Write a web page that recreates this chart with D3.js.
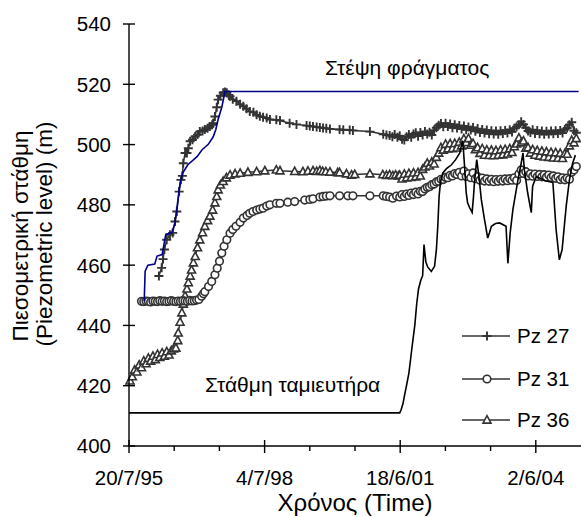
<!DOCTYPE html>
<html>
<head>
<meta charset="utf-8">
<script src="https://cdn.jsdelivr.net/npm/d3@7"></script>
<style>
  html, body { margin: 0; padding: 0; background: #fff; }
  svg { display: block; font-family: "Liberation Sans", Arial, sans-serif; }
</style>
</head>
<body>
<svg id="chart" width="581" height="517"></svg>
<script>
/* Πιεζόμετρα Pz 27 / 31 / 36, στάθμη ταμιευτήρα, στέψη φράγματος */

// χρόνος σε δεκαδικά έτη, στάθμη σε m
const crestLevel = [
  [1995.88, 448.0], [1995.90, 458.0], [1995.96, 460.0], [1996.11, 460.4], [1996.16, 463.0],
  [1996.27, 463.5], [1996.35, 470.2], [1996.48, 470.8], [1996.55, 473.8], [1996.66, 487.3],
  [1996.72, 490.6], [1996.83, 493.3], [1997.03, 496.0], [1997.14, 498.3], [1997.27, 500.0],
  [1997.38, 502.5], [1997.44, 505.0], [1997.49, 508.4], [1997.57, 512.4], [1997.64, 517.6],
  [2005.35, 517.6]
];

const reservoirLevel = [
  [1995.55, 411.0], [2001.45, 411.0], [2001.48, 412.0], [2001.52, 414.0], [2001.56, 417.2],
  [2001.60, 420.2], [2001.65, 424.2], [2001.69, 429.2], [2001.73, 434.2], [2001.78, 440.2],
  [2001.82, 447.1], [2001.86, 452.1], [2001.91, 455.0], [2001.95, 456.5], [2001.98, 466.8],
  [2002.02, 461.0], [2002.06, 459.4], [2002.14, 457.9], [2002.21, 459.6], [2002.25, 465.2],
  [2002.28, 472.8], [2002.31, 483.0], [2002.34, 487.6], [2002.39, 490.6], [2002.47, 492.0],
  [2002.58, 493.3], [2002.67, 495.0], [2002.76, 497.2], [2002.82, 501.3], [2002.84, 498.3],
  [2002.87, 491.6], [2002.90, 484.1], [2002.93, 480.8], [2002.97, 479.2], [2003.03, 477.5],
  [2003.06, 482.8], [2003.08, 487.3], [2003.13, 495.0], [2003.18, 489.3], [2003.23, 481.8],
  [2003.30, 475.1], [2003.37, 469.0], [2003.41, 470.8], [2003.45, 472.9], [2003.54, 473.8],
  [2003.63, 474.0], [2003.77, 472.9], [2003.81, 460.6], [2003.86, 470.7], [2003.92, 478.5],
  [2004.03, 488.3], [2004.10, 493.8], [2004.14, 497.2], [2004.17, 491.6], [2004.24, 484.1],
  [2004.32, 477.4], [2004.34, 483.8], [2004.35, 486.3], [2004.43, 489.4], [2004.61, 488.1],
  [2004.79, 487.4], [2004.86, 471.8], [2004.93, 461.8], [2004.99, 465.1], [2005.08, 479.6],
  [2005.15, 488.3], [2005.22, 493.8], [2005.28, 496.5]
];

// αραιές μετρήσεις έως 2001
const pz27Early = [
  [1996.20, 456.4], [1996.26, 459.1], [1996.29, 462.0], [1996.32, 465.2], [1996.37, 468.4],
  [1996.44, 470.1], [1996.50, 470.7], [1996.55, 474.5], [1996.59, 477.8], [1996.64, 484.4],
  [1996.68, 488.3], [1996.71, 489.6], [1996.73, 493.8], [1996.77, 497.2], [1996.81, 497.2],
  [1996.84, 498.8], [1996.88, 501.1], [1996.93, 501.6], [1996.99, 502.7], [1997.04, 503.3],
  [1997.09, 504.3], [1997.15, 504.5], [1997.20, 505.0], [1997.26, 505.4], [1997.31, 506.0],
  [1997.36, 506.6], [1997.38, 507.1], [1997.42, 509.3], [1997.46, 512.4], [1997.49, 514.9],
  [1997.54, 516.2], [1997.60, 517.2], [1997.64, 517.4], [1997.68, 517.2], [1997.72, 516.5],
  [1997.75, 516.0], [1997.81, 515.0], [1997.89, 514.4], [1997.97, 513.4], [1998.04, 512.7],
  [1998.11, 511.9], [1998.18, 511.0], [1998.26, 510.7], [1998.33, 509.9], [1998.40, 509.4],
  [1998.47, 509.1], [1998.55, 508.8], [1998.62, 508.3], [1998.76, 508.2], [1998.84, 508.0],
  [1999.05, 507.1], [1999.20, 506.7], [1999.42, 506.3], [1999.49, 506.2], [1999.56, 506.0],
  [1999.64, 505.8], [1999.71, 505.7], [1999.78, 505.5], [1999.85, 505.4], [1999.93, 505.2],
  [2000.14, 505.0], [2000.22, 504.9], [2000.36, 504.8], [2000.43, 504.7], [2000.80, 504.3],
  [2001.09, 503.4], [2001.16, 503.2], [2001.23, 503.0], [2001.29, 502.6], [2001.34, 503.3],
  [2001.40, 502.4]
];

const pz31Early = [
  [1995.82, 448.0], [1995.87, 447.9], [1995.92, 448.1], [1995.97, 448.0], [1996.02, 447.8],
  [1996.07, 448.1], [1996.12, 448.0], [1996.17, 447.9], [1996.22, 448.2], [1996.27, 448.0],
  [1996.32, 448.1], [1996.37, 447.9], [1996.42, 448.0], [1996.47, 448.2], [1996.52, 448.0],
  [1996.57, 447.9], [1996.62, 448.1], [1996.67, 448.0], [1996.72, 448.2], [1996.77, 448.1],
  [1996.82, 448.0], [1996.87, 448.3], [1996.92, 448.1], [1996.97, 448.2], [1997.02, 448.4],
  [1997.07, 448.6], [1997.13, 449.7], [1997.17, 450.5], [1997.20, 451.2], [1997.28, 452.9],
  [1997.35, 454.6], [1997.42, 456.8], [1997.47, 459.0], [1997.52, 461.3], [1997.57, 464.0],
  [1997.62, 466.3], [1997.68, 468.4], [1997.75, 470.6], [1997.81, 471.8], [1997.88, 472.9],
  [1997.97, 474.2], [1998.04, 475.6], [1998.12, 476.5], [1998.18, 477.2], [1998.25, 477.8],
  [1998.33, 478.3], [1998.40, 478.6], [1998.47, 478.9], [1998.55, 479.6], [1998.62, 480.0],
  [1998.76, 480.5], [1998.84, 480.5], [1999.01, 480.9], [1999.16, 481.1], [1999.38, 481.6],
  [1999.49, 481.8], [1999.56, 482.0], [1999.71, 482.6], [1999.78, 482.8], [1999.85, 482.9],
  [1999.93, 483.0], [2000.14, 483.0], [2000.32, 483.0], [2000.43, 483.0], [2000.80, 483.0],
  [2001.09, 483.0], [2001.16, 482.8], [2001.23, 482.6], [2001.30, 482.2], [2001.38, 482.9]
];

const pz36Early = [
  [1995.57, 421.6], [1995.62, 423.0], [1995.67, 425.2], [1995.72, 424.6], [1995.77, 426.9],
  [1995.82, 426.0], [1995.87, 428.2], [1995.92, 427.3], [1995.97, 429.1], [1996.02, 428.2],
  [1996.07, 429.8], [1996.12, 428.7], [1996.17, 430.4], [1996.22, 429.4], [1996.27, 430.9],
  [1996.32, 429.8], [1996.37, 431.3], [1996.42, 430.2], [1996.47, 431.6], [1996.52, 432.2],
  [1996.57, 432.5], [1996.61, 435.0], [1996.62, 437.5], [1996.66, 441.1], [1996.70, 444.2],
  [1996.73, 447.1], [1996.77, 449.8], [1996.81, 452.1], [1996.84, 454.2], [1996.88, 456.4],
  [1996.91, 458.4], [1996.95, 460.8], [1996.99, 462.9], [1997.04, 465.8], [1997.09, 468.4],
  [1997.15, 470.8], [1997.20, 472.9], [1997.26, 474.8], [1997.31, 476.3], [1997.37, 478.3],
  [1997.42, 480.7], [1997.46, 482.8], [1997.49, 485.0], [1997.54, 486.6], [1997.60, 487.8],
  [1997.67, 489.0], [1997.75, 489.9], [1997.86, 490.3], [1997.97, 490.5], [1998.14, 490.8],
  [1998.33, 491.0], [1998.51, 491.3], [1998.76, 491.6], [1998.84, 491.3], [1999.16, 491.1],
  [1999.34, 491.0], [1999.45, 491.2], [1999.56, 491.3], [1999.64, 491.1], [1999.71, 491.4],
  [1999.77, 491.1], [1999.84, 491.0], [1999.93, 490.9], [2000.10, 490.7], [2000.14, 490.7],
  [2000.29, 490.3], [2000.40, 489.9], [2000.47, 490.1], [2000.80, 490.3], [2001.08, 490.0],
  [2001.16, 489.8], [2001.23, 490.0], [2001.30, 489.7], [2001.36, 489.9], [2001.42, 489.6]
];

// πυκνές μετρήσεις μετά την πλήρωση (κάθε 0.05 έτη)
const denseStart = 2001.45;
const denseStep  = 0.05;

const pz27Dense = [
  502.9, 501.8, 501.5, 502.6, 503.3, 502.4, 503.5, 503.9, 502.8, 504.0,
  503.2, 504.3, 503.5, 504.1, 503.2, 504.8, 505.6, 506.4, 507.0, 505.9,
  507.1, 506.0, 506.8, 505.6, 506.6, 505.5, 506.3, 505.2, 506.2, 504.9,
  505.8, 504.8, 505.7, 504.4, 505.3, 504.0, 505.0, 503.8, 504.8, 503.6,
  504.6, 503.5, 504.5, 503.4, 504.6, 503.7, 504.7, 503.8, 504.9, 504.2,
  505.4, 505.9, 506.6, 507.6, 506.7, 505.6, 504.5, 504.0, 504.9, 503.7,
  504.7, 503.6, 504.5, 503.4, 504.4, 503.5, 504.5, 503.6, 504.6, 503.7,
  504.7, 503.8, 505.0, 505.5, 506.6, 507.4, 504.6, 503.9
];

const pz31Dense = [
  482.6, 483.4, 482.8, 483.6, 483.1, 483.9, 483.4, 484.2, 483.6, 484.5,
  484.4, 485.3, 485.8, 486.0, 486.7, 486.9, 487.6, 487.8, 488.5, 488.4,
  489.1, 489.0, 489.8, 489.6, 490.4, 490.1, 490.8, 489.6, 491.2, 489.4,
  490.3, 489.0, 490.6, 488.7, 489.3, 488.2, 488.9, 487.9, 488.6, 487.8,
  488.5, 487.7, 488.4, 487.8, 488.5, 487.9, 488.6, 488.0, 488.7, 488.2,
  489.0, 488.1, 490.2, 491.6, 490.4, 491.0, 489.6, 490.3, 489.5, 490.2,
  489.4, 490.1, 489.3, 490.0, 489.2, 489.9, 489.1, 489.6, 488.8, 489.3,
  488.4, 489.0, 488.3, 488.9, 488.5, 490.8, 491.6, 492.7
];

const pz36Dense = [
  489.8, 488.6, 490.2, 489.0, 490.4, 489.1, 490.6, 489.3, 490.7, 489.6,
  491.8, 492.6, 493.8, 492.9, 494.2, 493.6, 495.8, 497.2, 499.0, 498.2,
  500.1, 498.6, 500.3, 498.7, 500.4, 498.9, 500.8, 499.6, 501.9, 500.7,
  502.0, 499.8, 500.4, 498.3, 499.0, 497.1, 498.6, 496.5, 498.2, 496.4,
  498.1, 496.3, 498.0, 496.5, 498.2, 496.6, 498.4, 496.9, 498.6, 497.4,
  499.3, 500.2, 502.2, 500.6, 501.2, 498.8, 499.0, 497.2, 498.3, 496.5,
  498.0, 496.2, 497.8, 495.9, 497.6, 495.8, 497.4, 495.6, 497.3, 495.5,
  497.1, 495.4, 497.0, 496.8, 499.6, 501.4, 500.6, 502.0
];

const seriesNames = ["Pz 27", "Pz 31", "Pz 36"];
const yTicks = [400, 420, 440, 460, 480, 500, 520, 540];

/* ── ΒΟΗΘΗΤΙΚΑ ───────────────────────────────── */

function yearToDate(t) {
  const y = Math.floor(t);
  const a = new Date(y, 0, 1), b = new Date(y + 1, 0, 1);
  return new Date(+a + (t - y) * (b - a));
}

function withDense(early, dense) {
  return early.concat(dense.map((v, i) => [denseStart + i * denseStep, v]));
}

const pz27 = withDense(pz27Early, pz27Dense);
const pz31 = withDense(pz31Early, pz31Dense);
const pz36 = withDense(pz36Early, pz36Dense);

/* ── ΚΛΙΜΑΚΕΣ ────────────────────────────────── */

const svg = d3.select("#chart");
const X0 = 129, X1 = 581, Y0 = 446, Y1 = 24;
const INK = "#333333";

const tStart = new Date(1995, 6, 20);
const x = d3.scaleTime()
  .domain([tStart, d3.timeDay.offset(tStart, 3600)])
  .range([X0, X1]);
const y = d3.scaleLinear().domain([400, 540]).range([Y0, Y1]);

const majorDates = d3.range(0, 4).map(k => d3.timeDay.offset(tStart, k * 1080));
const minorDates = d3.range(1, 10).filter(k => k % 3).map(k => d3.timeDay.offset(tStart, k * 360));
const fmt = d3.timeFormat("%-d/%-m/%y");

const line = d3.line()
  .x(d => x(yearToDate(d[0])))
  .y(d => y(d[1]));

/* ── ΣΕΙΡΕΣ ──────────────────────────────────── */

const gData = svg.append("g");

function marker(g, kind) {
  if (kind === 0) {
    g.append("path").attr("d", "M-4.5,0H4.5M0,-4.5V4.5")
      .attr("stroke", INK).attr("stroke-width", 1.9).attr("fill", "none");
  } else if (kind === 1) {
    g.append("circle").attr("r", 3.8)
      .attr("fill", "#fff").attr("stroke", INK).attr("stroke-width", 1.6);
  } else {
    g.append("path").attr("d", "M0,-4.3L4,3.1L-4,3.1Z")
      .attr("fill", "#fff").attr("stroke", INK).attr("stroke-width", 1.6);
  }
}

function drawSeries(data, kind) {
  gData.append("path").datum(data)
    .attr("d", line).attr("fill", "none")
    .attr("stroke", INK).attr("stroke-width", 1.5);
  data.forEach(d => {
    const g = gData.append("g")
      .attr("transform", `translate(${x(yearToDate(d[0]))},${y(d[1])})`);
    marker(g, kind);
  });
}

drawSeries(pz27, 0);
drawSeries(pz36, 2);
drawSeries(pz31, 1);

gData.append("path").datum(reservoirLevel)
  .attr("d", line).attr("fill", "none")
  .attr("stroke", "#000").attr("stroke-width", 1.6);

gData.append("path").datum(crestLevel)
  .attr("d", line).attr("fill", "none")
  .attr("stroke", "#00008b").attr("stroke-width", 1.6);

/* ── ΑΞΟΝΕΣ ──────────────────────────────────── */

const gAx = svg.append("g").attr("stroke", "#000").attr("stroke-width", 1.4);
gAx.append("line").attr("x1", X0).attr("x2", X0).attr("y1", Y1).attr("y2", Y0);
gAx.append("line").attr("x1", X0).attr("x2", X1).attr("y1", Y0).attr("y2", Y0);

yTicks.forEach(v => {
  gAx.append("line").attr("x1", X0 - 6).attr("x2", X0 + 6).attr("y1", y(v)).attr("y2", y(v));
  svg.append("text").attr("x", 111).attr("y", y(v)).attr("dy", "0.36em")
    .attr("text-anchor", "end").attr("font-size", 20.5).text(v);
});

majorDates.forEach(d => {
  gAx.append("line").attr("x1", x(d)).attr("x2", x(d)).attr("y1", Y0 - 6).attr("y2", Y0 + 7);
  svg.append("text").attr("x", x(d)).attr("y", 485)
    .attr("text-anchor", "middle").attr("font-size", 20.5).text(fmt(d));
});
minorDates.forEach(d => {
  gAx.append("line").attr("x1", x(d)).attr("x2", x(d)).attr("y1", Y0).attr("y2", Y0 + 5);
});

svg.append("text").attr("x", (X0 + X1) / 2).attr("y", 511)
  .attr("text-anchor", "middle").attr("font-size", 24).text("Χρόνος (Time)");

svg.append("text").attr("transform", "translate(28,236) rotate(-90)")
  .attr("text-anchor", "middle").attr("font-size", 22.5).text("Πιεσομετρική στάθμη");
svg.append("text").attr("transform", "translate(52,234) rotate(-90)")
  .attr("text-anchor", "middle").attr("font-size", 22.5).text("(Piezometric level) (m)");

/* ── ΕΤΙΚΕΤΕΣ ────────────────────────────────── */

svg.append("text").attr("x", 325).attr("y", 75)
  .attr("font-size", 21).text("Στέψη φράγματος");
svg.append("text").attr("x", 205).attr("y", 392)
  .attr("font-size", 21).text("Στάθμη ταμιευτήρα");

/* ── ΥΠΟΜΝΗΜΑ ────────────────────────────────── */

const legendY = [336, 379, 420];
seriesNames.forEach((name, i) => {
  const g = svg.append("g");
  g.append("line").attr("x1", 462).attr("x2", 510)
    .attr("y1", legendY[i]).attr("y2", legendY[i])
    .attr("stroke", INK).attr("stroke-width", 1.5);
  marker(g.append("g").attr("transform", `translate(487,${legendY[i]})`), i);
  g.append("text").attr("x", 517).attr("y", legendY[i]).attr("dy", "0.36em")
    .attr("font-size", 20.5).text(name);
});
</script>
</body>
</html>
